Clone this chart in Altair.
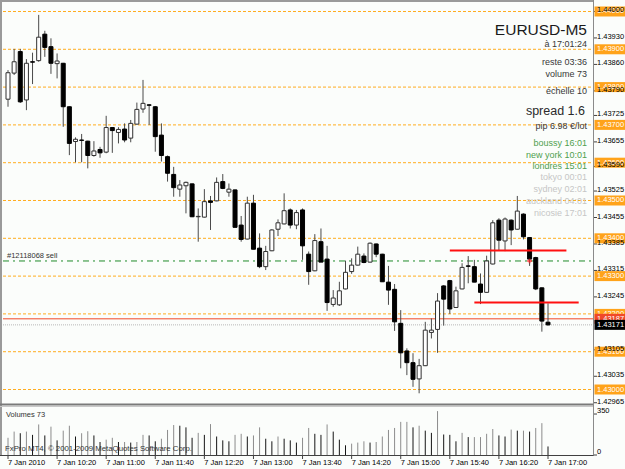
import altair as alt
import pandas as pd

FONT = "Liberation Sans"

# ---------------- data ----------------
opens = [1.43768,1.43837,1.43894,1.43766,1.43867,1.43870,1.43940,1.43907,1.43862,1.43863,
 1.43748,1.43656,1.43660,1.43657,1.43619,1.43635,1.43628,1.43693,1.43680,1.43689,
 1.43665,1.43702,1.43742,1.43753,1.43748,1.43673,1.43616,1.43569,1.43530,1.43539,
 1.43544,1.43457,1.43456,1.43499,1.43499,1.43550,1.43522,1.43528,1.43435,1.43398,
 1.43493,1.43374,1.43325,1.43367,1.43424,1.43438,1.43475,1.43435,1.43475,1.43358,
 1.43314,1.43391,1.43345,1.43225,1.43224,1.43266,1.43312,1.43329,1.43353,1.43337,
 1.43385,1.43358,1.43284,1.43265,1.43175,1.43102,1.43071,1.43028,1.43063,1.43151,
 1.43159,1.43274,1.43288,1.43217,1.43266,1.43327,1.43325,1.43279,1.43257,1.43332,
 1.43448,1.43393,1.43448,1.43424,1.43464,1.43402,1.43349,1.43269,1.43178]
highs = [1.43845,1.43901,1.43901,1.43874,1.43891,1.43991,1.43949,1.43929,1.43889,1.43864,
 1.43749,1.43667,1.43676,1.43658,1.43657,1.43642,1.43724,1.43694,1.43694,1.43704,
 1.43713,1.43759,1.43819,1.43755,1.43750,1.43704,1.43619,1.43589,1.43554,1.43550,
 1.43545,1.43479,1.43530,1.43512,1.43561,1.43570,1.43545,1.43529,1.43459,1.43510,
 1.43515,1.43413,1.43380,1.43424,1.43450,1.43519,1.43479,1.43475,1.43479,1.43365,
 1.43411,1.43426,1.43380,1.43263,1.43285,1.43341,1.43347,1.43378,1.43360,1.43389,
 1.43386,1.43359,1.43327,1.43279,1.43210,1.43109,1.43096,1.43081,1.43179,1.43188,
 1.43255,1.43276,1.43290,1.43272,1.43334,1.43353,1.43343,1.43307,1.43354,1.43448,
 1.43453,1.43455,1.43450,1.43512,1.43466,1.43403,1.43351,1.43270,1.43228]
lows = [1.43748,1.43832,1.43758,1.43739,1.43808,1.43867,1.43880,1.43835,1.43823,1.43695,
 1.43620,1.43601,1.43601,1.43585,1.43616,1.43613,1.43625,1.43626,1.43651,1.43654,
 1.43654,1.43701,1.43732,1.43700,1.43629,1.43603,1.43550,1.43510,1.43510,1.43466,
 1.43456,1.43391,1.43455,1.43422,1.43498,1.43530,1.43510,1.43429,1.43391,1.43397,
 1.43371,1.43321,1.43316,1.43366,1.43406,1.43437,1.43426,1.43424,1.43343,1.43277,
 1.43313,1.43337,1.43208,1.43219,1.43221,1.43265,1.43306,1.43328,1.43334,1.43336,
 1.43350,1.43285,1.43224,1.43155,1.43056,1.43038,1.43007,1.42990,1.43062,1.43135,
 1.43097,1.43169,1.43200,1.43216,1.43265,1.43281,1.43284,1.43226,1.43256,1.43331,
 1.43369,1.43366,1.43382,1.43423,1.43397,1.43327,1.43263,1.43153,1.43169]
closes = [1.43838,1.43867,1.43761,1.43863,1.43866,1.43932,1.43905,1.43863,1.43869,1.43748,
 1.43651,1.43662,1.43659,1.43619,1.43631,1.43626,1.43693,1.43685,1.43688,1.43660,
 1.43704,1.43741,1.43757,1.43752,1.43669,1.43619,1.43572,1.43534,1.43541,1.43548,
 1.43457,1.43458,1.43497,1.43495,1.43548,1.43532,1.43530,1.43429,1.43397,1.43493,
 1.43371,1.43325,1.43365,1.43422,1.43441,1.43473,1.43435,1.43468,1.43380,1.43312,
 1.43394,1.43337,1.43230,1.43242,1.43261,1.43310,1.43329,1.43358,1.43336,1.43387,
 1.43358,1.43285,1.43263,1.43179,1.43097,1.43071,1.43027,1.43063,1.43157,1.43157,
 1.43234,1.43239,1.43213,1.43261,1.43323,1.43326,1.43284,1.43257,1.43340,1.43441,
 1.43395,1.43451,1.43422,1.43472,1.43404,1.43345,1.43266,1.43181,1.43171]
volumes = [147,200,186,200,172,261,167,242,125,208,250,158,186,203,167,111,131,147,111,111,
 106,111,172,167,117,139,214,256,250,236,147,189,172,264,158,125,117,172,181,158,
 167,236,139,117,158,139,125,106,147,231,181,172,261,200,131,83,97,106,117,106,
 111,158,214,231,283,283,236,250,208,189,375,175,172,117,189,153,153,153,181,222,
 167,158,217,208,208,200,231,272,73]

times = pd.date_range("2010-01-07 09:40", periods=len(opens), freq="5min")

grid_levels = [1.440, 1.439, 1.438, 1.437, 1.436, 1.435, 1.434, 1.433, 1.432, 1.431, 1.430]
price_ticks = [1.44000, 1.43930, 1.43860, 1.43790, 1.43725, 1.43655, 1.43590, 1.43525,
               1.43455, 1.43385, 1.43315, 1.43245, 1.43105, 1.43035, 1.42965]
vol_ticks = [350, 0]
time_ticks = ["2010-01-07T09:40:00", "2010-01-07T10:20:00", "2010-01-07T11:00:00",
              "2010-01-07T11:40:00", "2010-01-07T12:20:00", "2010-01-07T13:00:00",
              "2010-01-07T13:40:00", "2010-01-07T14:20:00", "2010-01-07T15:00:00",
              "2010-01-07T15:40:00", "2010-01-07T16:20:00", "2010-01-07T17:00:00"]
time_labels = ["7 Jan 2010", "7 Jan 10:20", "7 Jan 11:00", "7 Jan 11:40", "7 Jan 12:20",
               "7 Jan 13:00", "7 Jan 13:40", "7 Jan 14:20", "7 Jan 15:00", "7 Jan 15:40",
               "7 Jan 16:20", "7 Jan 17:00"]

order_price = 1.43340
order_label = "#12118068 sell"
order_time = "2010-01-07T16:45:00"
stop_price = 1.43187
bid_price = 1.43171
trend_t1 = ["2010-01-07T15:40:00", "2010-01-07T16:00:00"]
trend_t2 = ["2010-01-07T17:15:00", "2010-01-07T17:25:00"]
trend_p = [1.43368, 1.43230]

info_title = "EURUSD-M5"
info_lines = ["à 17:01:24", "reste 03:36", "volume 73", "échelle 10"]
spread_text = "spread 1.6"
pip_text = "pip 6.98 €/lot"
sessions_open = ["boussy 16:01", "new york 10:01", "londres 15:01"]
sessions_closed = ["tokyo 00:01", "sydney 02:01", "auckland 04:01", "nicosie 17:01"]

# ---------------- frames ----------------
df = pd.DataFrame({
    "t": times.strftime("%Y-%m-%dT%H:%M:%S"),
    "open": opens, "high": highs, "low": lows, "close": closes, "vol": volumes,
})
df["vdir"] = ["up" if i == 0 or v >= volumes[i - 1] else "down" for i, v in enumerate(volumes)]

X_SCALE = alt.Scale(
    domain=[alt.DateTime(year=2010, month=1, date=7, hours=9, minutes=40),
            alt.DateTime(year=2010, month=1, date=7, hours=17, minutes=0)],
    range=[3, 553])
P_SCALE = alt.Scale(domain=[1.429643, 1.440251], range=[403, 2], zero=False, nice=False)
V_SCALE = alt.Scale(domain=[0, 410], range=[455, 407], zero=False, nice=False)

def X(field="t"):
    return alt.X(f"{field}:T", scale=X_SCALE, axis=None)

def Y(field):
    return alt.Y(f"{field}:Q", scale=P_SCALE, axis=None)

def one():
    return alt.Chart(pd.DataFrame({"a": [0]}))

layers = []

# orange grid
grid_df = pd.DataFrame({"p": grid_levels})
layers.append(alt.Chart(grid_df).mark_rule(color="#ffad1f", strokeDash=[3, 2], strokeWidth=1).encode(
    y=Y("p"), x=alt.value(3), x2=alt.value(593)))

# order line (green dash-dot)
order_df = pd.DataFrame({"p": [order_price], "label": [order_label], "t": [order_time]})
layers.append(alt.Chart(order_df).mark_rule(color="#1f8a2a", strokeDash=[6, 4, 2, 4], strokeWidth=1).encode(
    y=Y("p"), x=alt.value(3), x2=alt.value(593)))
layers.append(alt.Chart(order_df).mark_text(align="left", baseline="middle", font=FONT, fontSize=7.5,
                                            color="#333333", dy=-5).encode(
    y=Y("p"), x=alt.value(7), text="label:N"))

# stop line (red) and bid line (gray dotted)
stop_df = pd.DataFrame({"p": [stop_price]})
layers.append(alt.Chart(stop_df).mark_rule(color="#f04828", strokeWidth=1).encode(
    y=Y("p"), x=alt.value(3), x2=alt.value(593)))
bid_df = pd.DataFrame({"p": [bid_price]})
layers.append(alt.Chart(bid_df).mark_rule(color="#b8b8b8", strokeDash=[1, 1], strokeWidth=1).encode(
    y=Y("p"), x=alt.value(3), x2=alt.value(593)))

# volume bars
layers.append(alt.Chart(df).mark_rule(strokeWidth=1).encode(
    x=X(),
    y=alt.Y("vol:Q", scale=V_SCALE, axis=None),
    y2=alt.datum(0),
    color=alt.Color("vdir:N", scale=alt.Scale(domain=["up", "down"], range=["#8c8c8c", "#151515"]), legend=None)))

# candles
layers.append(alt.Chart(df).mark_rule(color="#4a4a4a", strokeWidth=1).encode(
    x=X(), y=Y("low"), y2="high:Q"))
layers.append(alt.Chart(df).mark_bar(width=4, strokeWidth=1).encode(
    x=X(), y=Y("open"), y2="close:Q",
    fill=alt.condition("datum.close >= datum.open", alt.value("#ffffff"), alt.value("#000000")),
    stroke=alt.condition("datum.close >= datum.open", alt.value("#303030"), alt.value("#000000"))))

# trend lines (red)
trend_rows = []
for k in range(len(trend_p)):
    trend_rows.append({"id": k, "t": trend_t1[k], "p": trend_p[k]})
    trend_rows.append({"id": k, "t": trend_t2[k], "p": trend_p[k]})
trend_df = pd.DataFrame(trend_rows)
layers.append(alt.Chart(trend_df).mark_line(color="#ff1010", strokeWidth=2).encode(
    x=X(), y=Y("p"), detail="id:N"))

# order open marker
layers.append(alt.Chart(order_df).mark_point(shape="cross", filled=True, color="#ff2020", size=22).encode(
    x=X(), y=Y("p")))

# ---------------- frame lines ----------------
def rule(x, x2, y, y2, color, w=1):
    return one().mark_rule(color=color, strokeWidth=w).encode(
        x=alt.value(x), x2=alt.value(x2), y=alt.value(y), y2=alt.value(y2))

layers.append(rule(0, 593, 1, 1, "#9a9a9a", 2))
layers.append(rule(1, 1, 0, 455, "#9a9a9a", 2))
layers.append(rule(0, 593, 404.5, 404.5, "#7a7a7a", 2))
layers.append(rule(0, 593, 406.5, 406.5, "#c8c8c8", 1))
layers.append(rule(593.5, 593.5, 0, 456, "#8a8a8a", 1))
layers.append(rule(0, 593.5, 455.5, 455.5, "#404040", 1))

# ---------------- right price scale ----------------
layers.append(alt.Chart(pd.DataFrame({"p": price_ticks})).mark_rule(color="#404040").encode(
    y=Y("p"), x=alt.value(594), x2=alt.value(597)))

box_df = pd.DataFrame({"p": grid_levels})
layers.append(alt.Chart(box_df).mark_tick(orient="horizontal", size=31, thickness=10, color="#ffa31a", opacity=1).encode(
    y=Y("p"), x=alt.value(610)))
layers.append(alt.Chart(box_df).mark_text(align="left", baseline="middle", font=FONT, fontSize=7.5, color="#ffffff").encode(
    y=Y("p"), x=alt.value(597), text=alt.Text("p:Q", format=".5f")))

layers.append(alt.Chart(pd.DataFrame({"p": price_ticks})).mark_text(
    align="left", baseline="middle", font=FONT, fontSize=7.5, color="#000000", dy=-1).encode(
    y=Y("p"), x=alt.value(597), text=alt.Text("p:Q", format=".5f")))

layers.append(alt.Chart(stop_df).mark_tick(orient="horizontal", size=31, thickness=10, color="#f04828", opacity=1).encode(
    y=Y("p"), x=alt.value(610)))
layers.append(alt.Chart(stop_df).mark_text(align="left", baseline="middle", font=FONT, fontSize=7.5, color="#ffffff").encode(
    y=Y("p"), x=alt.value(597), text=alt.Text("p:Q", format=".5f")))
layers.append(alt.Chart(bid_df).mark_tick(orient="horizontal", size=31, thickness=10, color="#000000", opacity=1).encode(
    y=Y("p"), x=alt.value(610)))
layers.append(alt.Chart(bid_df).mark_text(align="left", baseline="middle", font=FONT, fontSize=7.5, color="#ffffff").encode(
    y=Y("p"), x=alt.value(597), text=alt.Text("p:Q", format=".5f")))

# volume scale labels
vt_df = pd.DataFrame({"v": vol_ticks})
layers.append(alt.Chart(vt_df).mark_rule(color="#404040").encode(
    y=alt.Y("v:Q", scale=V_SCALE, axis=None), x=alt.value(594), x2=alt.value(597)))
layers.append(alt.Chart(vt_df).mark_text(align="left", baseline="middle", font=FONT, fontSize=7.5, color="#000000", dy=-3).encode(
    y=alt.Y("v:Q", scale=V_SCALE, axis=None), x=alt.value(597), text="v:Q"))

# ---------------- time axis ----------------
tt_df = pd.DataFrame({"t": time_ticks, "lab": time_labels})
layers.append(alt.Chart(tt_df).mark_rule(color="#404040").encode(
    x=X(), y=alt.value(455), y2=alt.value(459)))
layers.append(alt.Chart(tt_df).mark_text(align="left", baseline="middle", font=FONT, fontSize=7.5, color="#000000").encode(
    x=X(), y=alt.value(462.5), text="lab:N"))

# ---------------- texts ----------------
def txt(s, x, y, size, color, align="right"):
    return alt.Chart(pd.DataFrame({"s": [s]})).mark_text(
        align=align, baseline="middle", font=FONT, fontSize=size, color=color).encode(
        x=alt.value(x), y=alt.value(y), text="s:N")

layers.append(txt(info_title, 587, 30, 15.5, "#1a1a1a"))
for s, yy in zip(info_lines, [43.5, 61.5, 74, 91]):
    layers.append(txt(s, 587, yy, 9, "#383838"))
layers.append(txt(spread_text, 585, 111, 12.5, "#2a2a2a"))
layers.append(txt(pip_text, 587, 126, 9, "#383838"))
for s, yy in zip(sessions_open, [143, 154.5, 165.7]):
    layers.append(txt(s, 587, yy, 9, "#4f9f4f"))
for s, yy in zip(sessions_closed, [177.3, 189.3, 201, 212.7]):
    layers.append(txt(s, 587, yy, 9, "#c6c6c6"))

layers.append(txt("Volumes 73", 6, 415, 7.5, "#333333", "left"))
layers.append(txt("FxPro MT4, © 2001-2009 MetaQuotes Software Corp.", 5, 449, 7.8, "#333333", "left"))

chart = alt.layer(*layers).resolve_scale(y="independent").properties(
    width=625, height=469, padding=0, autosize=alt.AutoSizeParams(type="none"),
    background="#fbfdfb",
).configure_view(stroke=None)

chart.save("out.html", embed_options={"renderer": "svg", "actions": False})
